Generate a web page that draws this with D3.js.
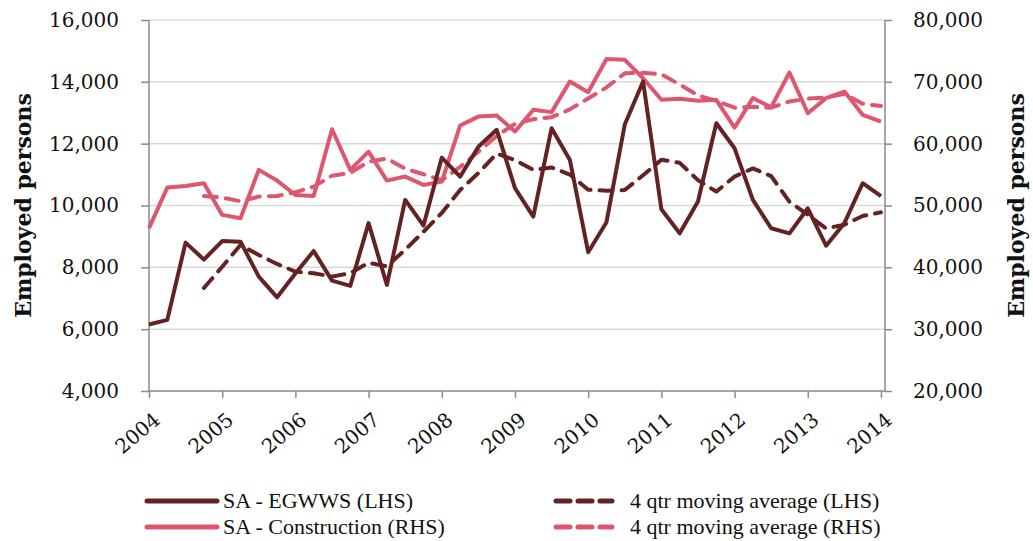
<!DOCTYPE html>
<html>
<head>
<meta charset="utf-8">
<script src="https://cdn.jsdelivr.net/npm/d3@7"></script>
<style>
  html, body { margin: 0; padding: 0; background: #fff; }
  svg { display: block; }
</style>
</head>
<body>
<svg id="chart" width="1033" height="541"></svg>
<script>
// ---- Data (quarterly, 2004 Q1 .. 2014 Q1) ----
const startYear = 2004;
const quarters = d3.range(41).map(i => startYear + i / 4);

const egwws = [6150, 6300, 8800, 8250, 8850, 8830, 7700, 7030, 7800, 8530,
  7570, 7400, 9430, 7430, 10180, 9350, 11550, 10935, 11900, 12450,
  10560, 9640, 12500, 11475, 8490, 9460, 12620, 14010, 9880, 9100,
  10130, 12660, 11850, 10180, 9265, 9100, 9910, 8700, 9430, 10720, 10300];

const egwwsMA = [null, null, null, 7330, 8020, 8720, 8400, 8110, 7860, 7810,
  7700, 7810, 8150, 8030, 8570, 9150, 9760, 10500, 11050, 11680,
  11470, 11150, 11230, 11000, 10510, 10480, 10500, 10980, 11480, 11380,
  10820, 10450, 10935, 11200, 10950, 10120, 9700, 9260, 9380, 9660, 9780];

const construction = [46330, 52900, 53170, 53600, 48480, 47940, 55760, 54030, 51700, 51550,
  62330, 55760, 58720, 54030, 54680, 53330, 53870, 62930, 64380, 64550,
  61960, 65470, 65100, 70050, 68330, 73700, 73560, 70580, 67090, 67250,
  66930, 67090, 62600, 67360, 65900, 71510, 64930, 67360, 68430, 64660, 63580];

const constructionMA = [null, null, null, 51550, 51300, 50680, 51440, 51550, 52150, 53050,
  54820, 55260, 57100, 57600, 55950, 55050, 54080, 56250, 58680, 61250,
  63200, 63950, 64280, 65550, 67300, 69100, 71380, 71450, 71220, 69560,
  67820, 66900, 65820, 65950, 65820, 66820, 67280, 67480, 68060, 66450, 66080];

const leftTicks = [4000, 6000, 8000, 10000, 12000, 14000, 16000];
const rightTicks = [20000, 30000, 40000, 50000, 60000, 70000, 80000];
const yearTicks = d3.range(2004, 2015);

const legendItems = [
  { label: "SA - EGWWS (LHS)", series: "egwws" },
  { label: "SA - Construction (RHS)", series: "construction" },
  { label: "4 qtr moving average (LHS)", series: "egwwsMA" },
  { label: "4 qtr moving average (RHS)", series: "constructionMA" }
];

// ---- Styling ----
const DARK = "#642222";
const PINK = "#DF576F";
const AXIS = "#8a8a8a";
const GRID = "#d9d9d9";
const numFont = "'DejaVu Serif', Georgia, serif";
const legFont = "'Liberation Serif', 'Times New Roman', serif";

const svg = d3.select("#chart");
const pL = 149, pR = 885, pT = 20, pB = 391;

const x = d3.scaleLinear().domain([2004, 2014.055]).range([pL, pR]);
const yL = d3.scaleLinear().domain([4000, 16000]).range([pB, pT]);
const yR = d3.scaleLinear().domain([20000, 80000]).range([pB, pT]);
const fmt = d3.format(",");

// gridlines
svg.append("g").selectAll("line").data(leftTicks.filter(d => d > 4000)).join("line")
  .attr("x1", pL).attr("x2", pR)
  .attr("y1", d => yL(d)).attr("y2", d => yL(d))
  .attr("stroke", GRID).attr("stroke-width", 1.5);

// left axis
const gL = svg.append("g").attr("transform", `translate(${pL},0)`)
  .call(d3.axisLeft(yL).tickValues(leftTicks).tickFormat(fmt).tickSize(8).tickPadding(22));
// right axis
const gR = svg.append("g").attr("transform", `translate(${pR},0)`)
  .call(d3.axisRight(yR).tickValues(rightTicks).tickFormat(fmt).tickSize(7).tickPadding(21));
// bottom axis
const gB = svg.append("g").attr("transform", `translate(0,${pB})`)
  .call(d3.axisBottom(x).tickValues(yearTicks).tickFormat(d3.format("d")).tickSize(7));

[gL, gR, gB].forEach(g => {
  g.selectAll("path.domain").attr("stroke", AXIS).attr("stroke-width", 1.5);
  g.selectAll(".tick line").attr("stroke", AXIS).attr("stroke-width", 1.5);
  g.selectAll("text").attr("fill", "#111").style("font-family", numFont).style("font-size", "20px");
});
gL.select("path.domain").attr("d", `M0,${pB}V${pT}`);
gR.select("path.domain").attr("d", `M0,${pB}V${pT}`);
gB.select("path.domain").attr("d", `M${pL},0H${pR}`);

gB.selectAll(".tick text")
  .attr("text-anchor", "end")
  .attr("dy", null)
  .attr("y", 0)
  .attr("transform", "translate(12,31) rotate(-40)");

// axis titles
svg.append("text")
  .attr("transform", `translate(31,${(pT + pB) / 2}) rotate(-90)`)
  .attr("text-anchor", "middle")
  .style("font-family", numFont).style("font-weight", "bold").style("font-size", "22px")
  .attr("fill", "#111").text("Employed persons");
svg.append("text")
  .attr("transform", `translate(1024,${(pT + pB) / 2}) rotate(-90)`)
  .attr("text-anchor", "middle")
  .style("font-family", numFont).style("font-weight", "bold").style("font-size", "22px")
  .attr("fill", "#111").text("Employed persons");

// lines
const seriesDefs = {
  construction: { values: construction, y: yR, color: PINK, dash: null },
  constructionMA: { values: constructionMA, y: yR, color: PINK, dash: "13,9" },
  egwws: { values: egwws, y: yL, color: DARK, dash: null },
  egwwsMA: { values: egwwsMA, y: yL, color: DARK, dash: "13,9" }
};
["construction", "constructionMA", "egwws", "egwwsMA"].forEach(key => {
  const s = seriesDefs[key];
  const line = d3.line()
    .defined(d => d.v !== null)
    .x(d => x(d.t)).y(d => s.y(d.v));
  const data = quarters.map((t, i) => ({ t, v: s.values[i] }));
  svg.append("path").datum(data)
    .attr("d", line)
    .attr("fill", "none")
    .attr("stroke", s.color)
    .attr("stroke-width", 4)
    .attr("stroke-linejoin", "round")
    .attr("stroke-linecap", s.dash ? "round" : "butt")
    .attr("stroke-dasharray", s.dash);
});

// legend
const legPos = [
  { sx: 147, sw: 70, tx: 223, y: 501 },
  { sx: 147, sw: 70, tx: 223, y: 527 },
  { sx: 554, sw: 60, tx: 630, y: 501 },
  { sx: 554, sw: 60, tx: 630, y: 527 }
];
legendItems.forEach((item, i) => {
  const s = seriesDefs[item.series];
  const p = legPos[i];
  svg.append("line")
    .attr("x1", p.sx + (s.dash ? 2 : 0)).attr("x2", p.sx + p.sw - (s.dash ? 2 : 0))
    .attr("y1", p.y).attr("y2", p.y)
    .attr("stroke", s.color).attr("stroke-width", 5)
    .attr("stroke-linecap", "round")
    .attr("stroke-dasharray", s.dash ? "14,8" : null);
  svg.append("text")
    .attr("x", p.tx).attr("y", p.y + 7)
    .style("font-family", legFont).style("font-size", "22px")
    .attr("fill", "#111").text(item.label);
});
</script>
</body>
</html>
